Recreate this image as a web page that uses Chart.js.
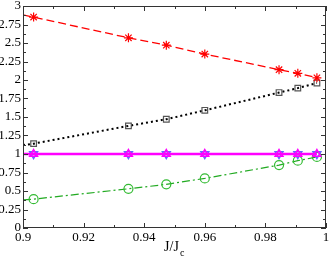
<!DOCTYPE html>
<html>
<head>
<meta charset="utf-8">
<script src="https://cdn.jsdelivr.net/npm/chart.js@4"></script>
<style>
  html, body { margin: 0; padding: 0; background: #fff; }
  #wrap { width: 332px; height: 260px; }
</style>
</head>
<body>
<div id="wrap"><canvas id="myChart"></canvas></div>
<script>
// J/Jc positions of the computed points
const jRatio = [0.9035, 0.9348, 0.9473, 0.9600, 0.9845, 0.9907, 0.9970];
// series values
const redStar = [2.85, 2.57, 2.47, 2.35, 2.14, 2.09, 2.03];
const blackSquare = [1.14, 1.38, 1.47, 1.59, 1.83, 1.89, 1.96];
const magentaStar = [1, 1, 1, 1, 1, 1, 1];
const greenCircle = [0.39, 0.53, 0.59, 0.67, 0.85, 0.91, 0.96];
// where each fitted line meets the left axis (J/Jc = 0.9)
const lineStartX = 0.9;
const lineStart = [2.88, 1.12, 1.0, 0.38];

const xTicks = [0.9, 0.92, 0.94, 0.96, 0.98, 1];
const yTicks = [0, 0.25, 0.5, 0.75, 1, 1.25, 1.5, 1.75, 2, 2.25, 2.5, 2.75, 3];

function pts(start, ys) {
    return [{x: lineStartX, y: start}].concat(ys.map((v, i) => ({x: jRatio[i], y: v})));
}
const hideFirst = ctx => ctx.dataIndex === 0 ? 0 : 4.5;
const plain = v => String(+Number(v).toFixed(3));

const frameTicks = {
    id: 'frameTicks',
    afterDraw(chart) {
        const c = chart.ctx, a = chart.chartArea;
        const xs = chart.scales.x, ys = chart.scales.y;
        c.save();
        c.strokeStyle = '#333';
        c.lineWidth = 1;
        c.strokeRect(a.left + 0.5, a.top + 0.5, a.right - a.left - 1, a.bottom - a.top - 1);
        c.beginPath();
        for (let i = 0; i <= 24; i++) {
            const v = i * 0.125, y = Math.round(ys.getPixelForValue(v)) + 0.5;
            const len = i % 2 === 0 ? 5 : 3;
            c.moveTo(a.left, y); c.lineTo(a.left + len, y);
            c.moveTo(a.right, y); c.lineTo(a.right - len, y);
        }
        for (let i = 0; i <= 10; i++) {
            const v = 0.9 + i * 0.01, x = Math.round(xs.getPixelForValue(v)) + 0.5;
            const len = i % 2 === 0 ? 5 : 3;
            c.moveTo(x, a.bottom); c.lineTo(x, a.bottom - len);
            c.moveTo(x, a.top); c.lineTo(x, a.top + len);
        }
        c.stroke();
        // x tick labels
        c.fillStyle = '#000';
        c.font = '13px "Liberation Serif"';
        c.textAlign = 'center';
        c.textBaseline = 'top';
        xTicks.forEach(v => c.fillText(plain(v), xs.getPixelForValue(v), a.bottom + 3));
        // axis title J/Jc
        c.font = '14px "Liberation Serif"';
        c.textBaseline = 'alphabetic';
        const mid = (a.left + a.right) / 2;
        const main = 'J/J';
        const w = c.measureText(main).width;
        c.textAlign = 'left';
        c.fillText(main, mid - w / 2 - 3, 251);
        c.font = '10px "Liberation Serif"';
        c.fillText('c', mid + w / 2 - 2, 256);
        c.restore();
    }
};

const ctx = document.getElementById('myChart').getContext('2d');
new Chart(ctx, {
    type: 'scatter',
    data: {
        datasets: [
            {
                data: pts(lineStart[0], redStar),
                showLine: true,
                borderColor: '#ff0000',
                borderWidth: 1.3,
                borderDash: [8, 4],
                pointStyle: 'star',
                pointRadius: hideFirst,
                pointBorderColor: '#ff0000',
                pointBorderWidth: 1.2,
                pointBackgroundColor: 'transparent'
            },
            {
                data: pts(lineStart[1], blackSquare),
                showLine: true,
                borderColor: '#000000',
                borderWidth: 2,
                borderDash: [2, 3],
                pointStyle: 'rect',
                pointRadius: ctx => ctx.dataIndex === 0 ? 0 : 4,
                pointBorderColor: '#555555',
                pointBorderWidth: 1.2,
                pointBackgroundColor: 'transparent'
            },
            {
                data: pts(lineStart[2], magentaStar),
                showLine: true,
                borderColor: '#ff00ff',
                borderWidth: 2.5,
                pointStyle: 'triangle',
                pointRadius: hideFirst,
                pointBorderColor: '#ff00ff',
                pointBorderWidth: 1.5,
                pointBackgroundColor: 'transparent'
            },
            {
                data: jRatio.map((v, i) => ({x: v, y: magentaStar[i]})),
                showLine: false,
                pointStyle: 'triangle',
                rotation: 180,
                pointRadius: 4.5,
                pointBorderColor: '#6666ff',
                pointBorderWidth: 1.5,
                pointBackgroundColor: 'transparent'
            },
            {
                data: pts(lineStart[3], greenCircle),
                showLine: true,
                borderColor: '#22aa22',
                borderWidth: 1.2,
                borderDash: [8, 3, 2, 3],
                pointStyle: 'circle',
                pointRadius: hideFirst,
                pointBorderColor: '#33bb33',
                pointBorderWidth: 1.2,
                pointBackgroundColor: 'transparent'
            }
        ]
    },
    options: {
        responsive: true,
        maintainAspectRatio: false,
        animation: false,
        layout: { padding: { top: 3, right: 4, left: 0, bottom: 0 } },
        plugins: { legend: { display: false }, tooltip: { enabled: false } },
        scales: {
            x: {
                type: 'linear',
                min: 0.9,
                max: 1,
                afterBuildTicks: s => { s.ticks = xTicks.map(v => ({value: v})); },
                afterFit: s => { s.height = 32; s.paddingLeft = 0; s.paddingRight = 0; },
                grid: { display: false, drawTicks: false },
                border: { display: false },
                ticks: { display: false }
            },
            y: {
                min: 0,
                max: 3,
                afterBuildTicks: s => { s.ticks = yTicks.map(v => ({value: v})); },
                afterFit: s => { s.width = 23; s.paddingTop = 0; s.paddingBottom = 0; },
                grid: { display: false, drawTicks: false },
                border: { display: false },
                ticks: {
                    padding: 2,
                    color: '#000',
                    autoSkip: false,
                    callback: plain,
                    font: { family: 'Liberation Serif', size: 13 }
                }
            }
        }
    },
    plugins: [frameTicks]
});
</script>
</body>
</html>
